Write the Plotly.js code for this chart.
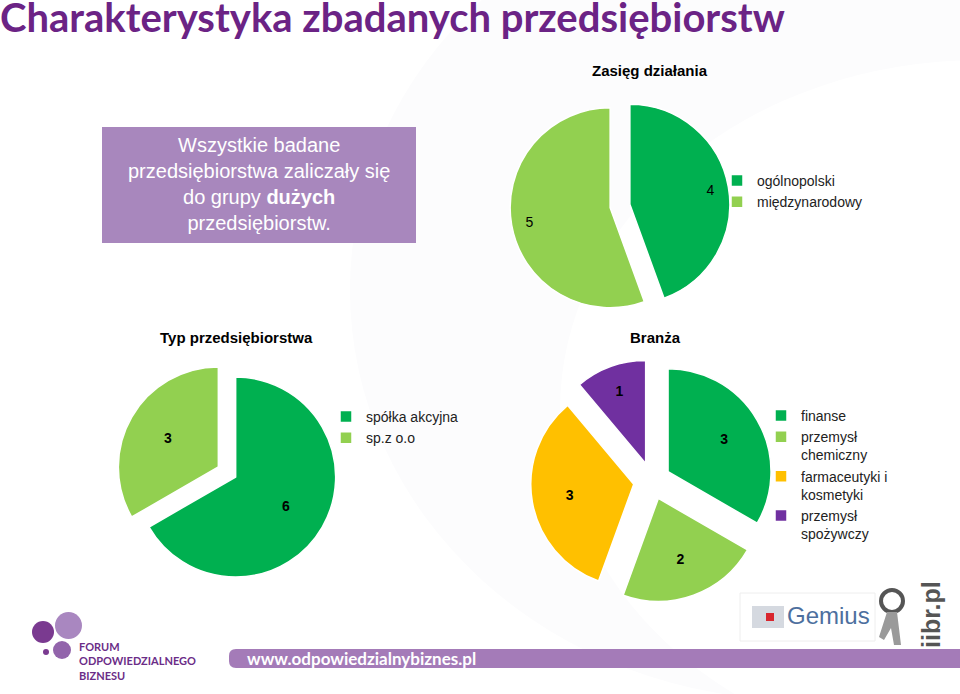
<!DOCTYPE html>
<html>
<head>
<meta charset="utf-8">
<script src="https://cdn.plot.ly/plotly-3.0.1.min.js"></script>
<style>
  html, body { margin: 0; padding: 0; background: #fff; }
  #chart { width: 960px; height: 694px; }
</style>
</head>
<body>
<div id="chart"></div>
<script>
// data
var zasiegLabels = ['ogólnopolski', 'międzynarodowy'];
var zasiegValues = [4, 5];

var typLabels = ['spółka akcyjna', 'sp.z o.o'];
var typValues = [6, 3];

var branzaLabels = ['finanse', 'przemysł<br>chemiczny', 'farmaceutyki i<br>kosmetyki', 'przemysł<br>spożywczy'];
var branzaValues = [3, 2, 3, 1];

// colours
var darkGreen = '#00b050', lightGreen = '#92d050', orange = '#ffc000', violet = '#7030a0';
var purple = '#6b2385', boxPurple = '#a887bd', barPurple = '#a47bb8';

var W = 960, H = 694;
var ARIAL = 'Arial, Liberation Sans, sans-serif';

function px(x) { return x / W; }
function py(y) { return 1 - y / H; }

// square pie box centred on (cx, cy) in page pixels
function box(cx, cy, half) {
  return {x: [px(cx - half), px(cx + half)], y: [py(cy + half), py(cy - half)]};
}

// each pie = coloured slices + a see-through copy (with a hole) that only carries the numbers,
// the hole pushes the numbers out toward the rim like on the slide
function pie(labels, values, colors, dom, pull, hole, legendId, bold) {
  var slices = {
    type: 'pie', labels: labels, values: values, domain: dom,
    sort: false, direction: 'clockwise', rotation: 0, pull: pull,
    marker: {colors: colors, line: {color: '#ffffff', width: 1.5}},
    textinfo: 'none', hoverinfo: 'label+value',
    legend: legendId, showlegend: true
  };
  var nums = {
    type: 'pie', labels: labels, values: values, domain: dom,
    sort: false, direction: 'clockwise', rotation: 0, pull: pull, hole: hole,
    marker: {colors: labels.map(function () { return 'rgba(0,0,0,0)'; }), line: {width: 0}},
    textinfo: 'value', textposition: 'inside', insidetextorientation: 'horizontal',
    textfont: {family: ARIAL, size: 14, color: '#000', weight: bold ? 'bold' : 'normal'},
    hoverinfo: 'skip', showlegend: false
  };
  return [slices, nums];
}

var data = []
  .concat(pie(zasiegLabels, zasiegValues, [darkGreen, lightGreen], box(620, 206, 110), 0.1, 0.64, 'legend', false))
  .concat(pie(typLabels, typValues, [darkGreen, lightGreen], box(227, 472, 110), 0.1, 0.16, 'legend2', true))
  .concat(pie(branzaLabels, branzaValues, [darkGreen, lightGreen, orange, violet], box(652, 481, 121.5), 0.18, 0.26, 'legend3', true));

var legendFont = {family: ARIAL, size: 14, color: '#222'};

function note(text, x, y, font, extra) {
  var a = {text: text, x: px(x), y: py(y), xref: 'paper', yref: 'paper', xanchor: 'center', yanchor: 'middle',
    showarrow: false, font: font};
  for (var k in extra) a[k] = extra[k];
  return a;
}

var titleFont = {family: ARIAL, size: 15, color: '#000'};

var annotations = [
  note('<b>Zasięg działania</b>', 650, 70, titleFont),
  note('<b>Typ przedsiębiorstwa</b>', 236, 337, titleFont),
  note('<b>Branża</b>', 655, 337, titleFont),
  note('Wszystkie badane<br>przedsiębiorstwa zaliczały się<br>do grupy <b>dużych</b><br>przedsiębiorstw.', 259, 184,
    {family: ARIAL, size: 20, color: '#ffffff'}),
  // footer
  note('<b>FORUM<br>ODPOWIEDZIALNEGO<br>BIZNESU</b>', 77, 661, {family: 'Lato, sans-serif', size: 11, color: '#6b2d87'},
    {xanchor: 'left', align: 'left'}),
  note('<b>www.odpowiedzialnybiznes.pl</b>', 245, 658, {family: 'Lato, sans-serif', size: 17, color: '#ffffff'}, {xanchor: 'left'}),
  note('Gemius', 785, 615, {family: ARIAL, size: 24, color: '#4d6f9e'}, {xanchor: 'left'}),
  note('<b>iibr.pl</b>', 931, 615, {family: ARIAL, size: 25, color: '#555'}, {textangle: -90})
];

var shapes = [
  // faint background swirls
  {type: 'circle', xref: 'paper', yref: 'paper', x0: px(350), x1: px(1250), y0: py(700), y1: py(-120),
    line: {width: 0}, fillcolor: '#fcfcfd', layer: 'below'},
  {type: 'circle', xref: 'paper', yref: 'paper', x0: px(560), x1: px(1400), y0: py(760), y1: py(60),
    line: {width: 0}, fillcolor: '#ffffff', layer: 'below'},
  // text box
  {type: 'rect', xref: 'paper', yref: 'paper', x0: px(102), x1: px(416), y0: py(243), y1: py(127),
    line: {width: 0}, fillcolor: boxPurple, layer: 'below'},
  // url bar
  {type: 'path', xref: 'paper', yref: 'paper', layer: 'below', fillcolor: barPurple, line: {width: 0},
    path: 'M' + px(236) + ',' + py(649) + ' L' + px(960) + ',' + py(649) + ' L' + px(960) + ',' + py(668) +
      ' L' + px(236) + ',' + py(668) + ' Q' + px(229) + ',' + py(668) + ' ' + px(229) + ',' + py(661) +
      ' L' + px(229) + ',' + py(656) + ' Q' + px(229) + ',' + py(649) + ' ' + px(236) + ',' + py(649) + ' Z'},
  // gemius panel
  {type: 'rect', xref: 'paper', yref: 'paper', x0: px(740), x1: px(875), y0: py(641), y1: py(593),
    line: {width: 1, color: '#eeeeee'}, fillcolor: '#ffffff', layer: 'below'},
  // FOB logo circles
  {type: 'circle', xref: 'paper', yref: 'paper', x0: px(55), x1: px(82), y0: py(639), y1: py(612),
    line: {width: 0}, fillcolor: '#a987c0'},
  {type: 'circle', xref: 'paper', yref: 'paper', x0: px(32), x1: px(54), y0: py(643), y1: py(621),
    line: {width: 0}, fillcolor: '#7a3a90'},
  {type: 'circle', xref: 'paper', yref: 'paper', x0: px(53), x1: px(71), y0: py(659), y1: py(641),
    line: {width: 0}, fillcolor: '#9264ab'},
  {type: 'circle', xref: 'paper', yref: 'paper', x0: px(43), x1: px(49), y0: py(655), y1: py(649),
    line: {width: 0}, fillcolor: '#7a3a90'},
  // gemius mark
  {type: 'rect', xref: 'paper', yref: 'paper', x0: px(752), x1: px(784), y0: py(628), y1: py(606),
    line: {width: 0}, fillcolor: '#d5d9e0'},
  {type: 'rect', xref: 'paper', yref: 'paper', x0: px(766), x1: px(774), y0: py(621), y1: py(613),
    line: {width: 0}, fillcolor: '#d8262e'},
  // iibr figure
  {type: 'circle', xref: 'paper', yref: 'paper', x0: px(881), x1: px(903), y0: py(612), y1: py(590),
    line: {width: 4, color: '#555'}, fillcolor: 'rgba(0,0,0,0)'},
  {type: 'path', xref: 'paper', yref: 'paper', fillcolor: '#9a9a9a', line: {width: 0},
    path: 'M' + px(887) + ',' + py(612) + ' L' + px(897) + ',' + py(612) + ' L' + px(901) + ',' + py(645) +
      ' L' + px(894) + ',' + py(645) + ' L' + px(891) + ',' + py(628) + ' L' + px(884) + ',' + py(640) +
      ' L' + px(879) + ',' + py(637) + ' Z'}
];

var layout = {
  width: W, height: H,
  margin: {l: 0, r: 0, t: 0, b: 0},
  paper_bgcolor: '#ffffff',
  title: {text: '<b>Charakterystyka zbadanych przedsiębiorstw</b>', x: 0, xanchor: 'left', xref: 'paper',
    y: 1, yanchor: 'top', yref: 'container', pad: {l: 0, t: 4},
    font: {family: 'Lato, sans-serif', size: 40, color: purple}},
  font: {family: ARIAL},
  legend: {x: px(717), y: py(165), xanchor: 'left', yanchor: 'top', font: legendFont, bgcolor: 'rgba(0,0,0,0)'},
  legend2: {x: px(326), y: py(401), xanchor: 'left', yanchor: 'top', font: legendFont, bgcolor: 'rgba(0,0,0,0)'},
  legend3: {x: px(761), y: py(400), xanchor: 'left', yanchor: 'top', font: legendFont, valign: 'top', bgcolor: 'rgba(0,0,0,0)'},
  annotations: annotations,
  shapes: shapes
};

Plotly.newPlot('chart', data, layout, {displayModeBar: false, responsive: false});
</script>
</body>
</html>
